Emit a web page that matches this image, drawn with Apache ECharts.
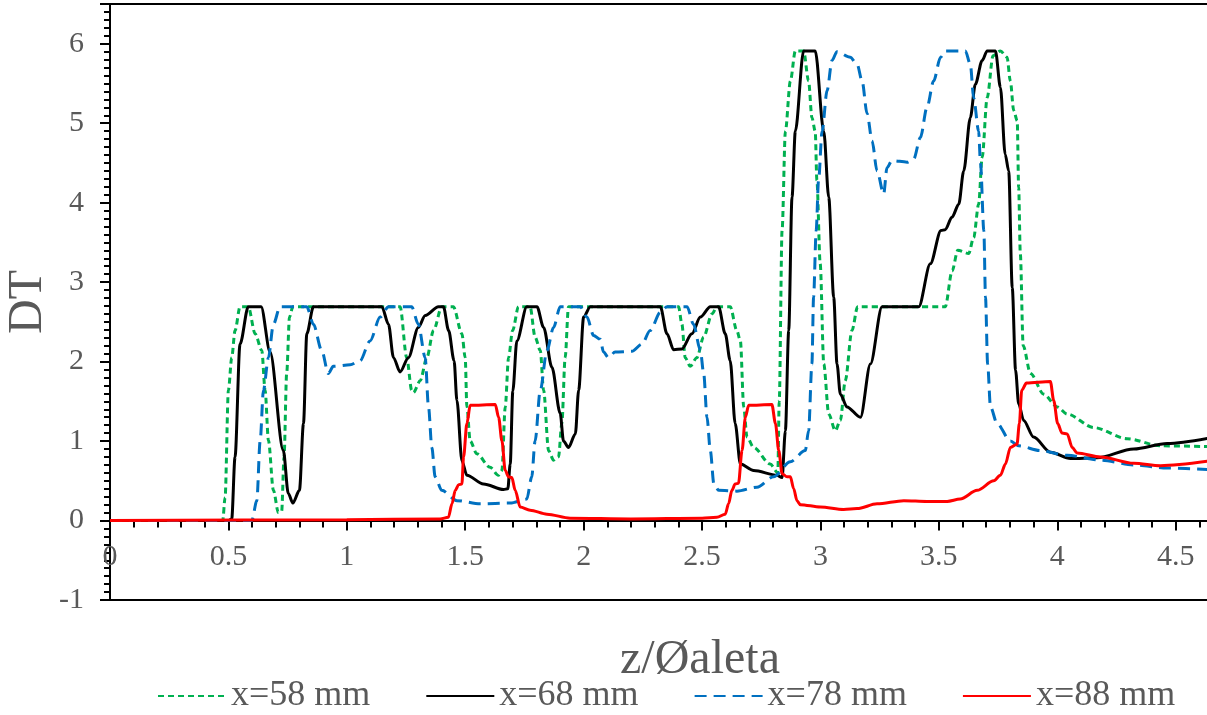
<!DOCTYPE html>
<html>
<head>
<meta charset="utf-8">
<script src="https://cdn.jsdelivr.net/npm/echarts@6/dist/echarts.min.js"></script>
<style>
    html, body { margin: 0; padding: 0; background: #fff; }
    #chart { width: 1207px; height: 715px; }
</style>
</head>
<body>
<div id="chart"></div>
<script>
// z/Øaleta vs DT
var seriesNames = ['x=58 mm', 'x=68 mm', 'x=78 mm', 'x=88 mm'];

var x58 = [[0,0],[0.476,0],[0.486,0.29],[0.5,1.64],[0.514,2.05],[0.528,2.39],[0.549,2.69],[0.584,2.69],[0.613,2.35],[0.641,2.14],[0.655,1.64],[0.669,1.01],[0.69,0.38],[0.711,0.1],[0.725,0.12],[0.735,0.8],[0.746,1.85],[0.758,2.56],[0.772,2.69],
    [1.225,2.69],[1.253,2.05],[1.274,1.64],[1.281,1.61],[1.31,1.76],[1.338,2.05],[1.366,2.39],[1.401,2.69],[1.45,2.69],[1.486,2.35],[1.5,2.05],[1.507,1.43],[1.521,1.0],[1.549,0.84],[1.605,0.67],[1.64,0.57],[1.655,0.63],[1.669,1.43],[1.683,2.05],[1.7,2.39],[1.725,2.69],
    [1.774,2.69],[1.795,2.31],[1.817,2.14],[1.831,1.64],[1.852,0.88],[1.873,0.76],[1.894,0.8],[1.908,1.22],[1.922,2.05],[1.936,2.69],[2.401,2.69],[2.415,2.47],[2.429,2.05],[2.45,1.94],[2.478,2.05],[2.507,2.31],[2.542,2.6],[2.563,2.69],
    [2.619,2.69],[2.647,2.39],[2.662,2.26],[2.676,1.43],[2.69,1.05],[2.718,0.92],[2.788,0.71],[2.82,0.6],[2.826,1.5],[2.838,3.65],[2.852,4.9],[2.873,5.53],[2.894,5.91],[2.929,5.91],[2.95,5.53],[2.964,5.07],[2.978,4.9],[2.985,4.28],[2.999,3.23],[3.014,1.97],[3.035,1.34],[3.063,1.13],[3.084,1.26],[3.105,1.76],[3.133,2.39],[3.157,2.69],
    [3.527,2.69],[3.556,3.14],[3.58,3.4],[3.626,3.36],[3.647,3.56],[3.668,3.98],[3.683,4.57],[3.704,5.32],[3.729,5.85],[3.76,5.91],[3.788,5.83],[3.802,5.53],[3.816,5.16],[3.831,5.03],[3.837,4.19],[3.844,3.36],[3.856,2.2],[3.887,1.85],[3.943,1.59],[4.0,1.43],[4.042,1.34],[4.154,1.17],[4.295,1.03],[4.436,0.94],[4.645,0.93]];

var x68 = [[0,0],[0.5,0],[0.514,0.02],[0.528,0.8],[0.549,2.22],[0.584,2.69],[0.638,2.69],[0.676,2.12],[0.732,0.88],[0.753,0.34],[0.772,0.22],[0.8,0.38],[0.817,1.22],[0.831,2.35],[0.859,2.69],
    [1.148,2.69],[1.176,2.47],[1.197,2.05],[1.225,1.87],[1.26,2.05],[1.302,2.43],[1.331,2.58],[1.387,2.69],[1.408,2.69],[1.43,2.39],[1.453,2.01],[1.465,1.51],[1.486,0.75],[1.507,0.57],[1.577,0.46],[1.662,0.39],[1.68,0.4],[1.69,0.71],[1.701,1.63],[1.718,2.26],[1.76,2.69],
    [1.803,2.69],[1.831,2.43],[1.866,1.93],[1.901,1.35],[1.915,1.0],[1.936,0.92],[1.965,1.09],[1.979,1.64],[2.0,2.56],[2.028,2.69],[2.324,2.69],[2.352,2.35],[2.38,2.15],[2.415,2.16],[2.457,2.35],[2.493,2.56],[2.535,2.69],[2.57,2.69],[2.598,2.35],[2.619,2.01],[2.64,1.22],[2.662,0.71],[2.718,0.63],[2.817,0.57],[2.838,0.54],
    [2.852,1.13],[2.866,2.39],[2.88,4.07],[2.894,4.9],[2.929,5.91],[2.978,5.91],[3.014,4.9],[3.035,4.07],[3.056,2.81],[3.07,1.97],[3.084,1.59],[3.112,1.43],[3.169,1.3],[3.211,1.97],[3.26,2.69],[3.415,2.69],[3.464,3.23],[3.509,3.65],[3.527,3.66],[3.556,3.82],[3.584,3.98],[3.605,4.4],[3.633,5.07],[3.654,5.49],[3.683,5.79],[3.704,5.91],[3.739,5.91],
    [3.76,5.45],[3.78,4.61],[3.795,4.4],[3.81,2.93],[3.824,1.89],[3.837,1.47],[3.858,1.26],[3.9,1.05],[3.971,0.86],[4.056,0.78],[4.168,0.79],[4.323,0.9],[4.464,0.97],[4.645,1.04]];

var x78 = [[0,0],[0.599,0],[0.62,0.25],[0.634,1.0],[0.648,1.64],[0.669,2.05],[0.69,2.47],[0.718,2.69],[0.831,2.69],[0.859,2.47],[0.894,2.14],[0.922,1.85],[0.943,1.94],[1.014,1.96],[1.056,2.01],[1.098,2.26],[1.141,2.56],[1.176,2.69],
    [1.274,2.69],[1.302,2.47],[1.331,2.05],[1.345,1.43],[1.359,0.92],[1.373,0.55],[1.401,0.38],[1.465,0.25],[1.563,0.21],[1.69,0.22],[1.76,0.27],[1.781,0.55],[1.795,1.0],[1.817,1.64],[1.845,2.14],[1.873,2.43],[1.901,2.69],
    [1.986,2.69],[2.014,2.56],[2.042,2.33],[2.07,2.28],[2.084,2.12],[2.105,2.05],[2.133,2.12],[2.204,2.13],[2.246,2.22],[2.281,2.39],[2.324,2.62],[2.352,2.69],[2.437,2.69],[2.464,2.47],[2.493,2.14],[2.507,1.85],[2.521,1.3],[2.535,0.88],[2.55,0.46],[2.57,0.38],[2.647,0.37],[2.732,0.42],[2.802,0.55],[2.873,0.74],[2.936,0.88],
    [2.95,1.13],[2.964,1.97],[2.971,2.81],[2.982,3.65],[2.992,4.28],[3.007,4.9],[3.028,5.41],[3.049,5.79],[3.07,5.9],[3.126,5.83],[3.155,5.74],[3.176,5.53],[3.197,5.12],[3.218,4.78],[3.239,4.4],[3.267,4.11],[3.281,4.44],[3.302,4.53],[3.366,4.51],[3.394,4.55],[3.422,4.82],[3.45,5.2],[3.478,5.53],[3.507,5.83],[3.528,5.91],
    [3.612,5.91],[3.633,5.74],[3.647,5.32],[3.668,4.9],[3.676,4.49],[3.69,3.65],[3.697,2.81],[3.706,1.97],[3.718,1.43],[3.746,1.22],[3.802,1.0],[3.837,0.94],[3.929,0.88],[4.042,0.82],[4.183,0.76],[4.323,0.7],[4.464,0.66],[4.645,0.64]];

var x88 = [[0,0],[1.0,0.01],[1.394,0.02],[1.429,0.04],[1.444,0.21],[1.458,0.38],[1.472,0.45],[1.486,0.46],[1.493,0.8],[1.507,1.22],[1.521,1.45],[1.627,1.46],[1.641,1.3],[1.655,1.0],[1.669,0.63],[1.683,0.55],[1.697,0.54],[1.711,0.38],[1.732,0.17],[1.774,0.13],[1.845,0.08],[1.943,0.03],
    [2.2,0.02],[2.5,0.03],[2.563,0.04],[2.598,0.08],[2.612,0.21],[2.626,0.38],[2.64,0.46],[2.654,0.47],[2.669,0.88],[2.683,1.3],[2.697,1.45],[2.795,1.46],[2.81,1.22],[2.824,0.88],[2.838,0.59],[2.859,0.55],[2.873,0.55],[2.887,0.4],[2.901,0.25],[2.915,0.2],
    [3.0,0.17],[3.098,0.14],[3.155,0.15],[3.239,0.21],[3.352,0.25],[3.45,0.24],[3.535,0.24],[3.59,0.27],[3.662,0.38],[3.732,0.5],[3.76,0.57],[3.781,0.71],[3.802,0.92],[3.83,0.96],[3.84,1.22],[3.85,1.64],[3.87,1.73],[3.971,1.75],[3.985,1.51],[4.002,1.22],[4.02,1.1],[4.042,1.09],[4.063,0.92],[4.084,0.85],[4.183,0.8],[4.323,0.72],[4.436,0.69],[4.645,0.75]];

var xMin = 0, xMax = 4.645, xStep = 0.5;
var yMin = -1, yMax = 6.5, yStep = 1;

var font = 'Liberation Serif';
var grey = '#595959';

var gridTop = 4, gridBottom = 115;
var gridHeight = 715 - gridTop - gridBottom;
// the x axis sits on y = 0, labels just under it
var xAxisOffset = -(0 - yMin) / (yMax - yMin) * gridHeight;

var myChart = echarts.init(document.getElementById('chart'));

function lineSeries(name, data, color, type) {
    return {
        name: name,
        type: 'line',
        data: data,
        symbol: 'none',
        smooth: 0.3,
        smoothMonotone: 'x',
        lineStyle: { color: color, width: 3, type: type },
        itemStyle: { color: color }
    };
}

var option = {
    animation: false,
    backgroundColor: '#fff',
    grid: {
        left: 110,
        top: gridTop,
        right: -3,
        bottom: gridBottom,
        outerBoundsMode: 'none',
        containLabel: false,
        show: true,
        borderColor: '#000',
        borderWidth: 2
    },
    legend: {
        data: seriesNames,
        left: 152,
        top: 673,
        itemWidth: 68,
        itemHeight: 14,
        itemGap: 55,
        itemStyle: { opacity: 0 },
        textStyle: { fontFamily: font, fontSize: 36, color: grey }
    },
    xAxis: {
        type: 'value',
        min: xMin,
        max: xMax,
        interval: xStep,
        offset: xAxisOffset,
        name: 'z/Øaleta',
        nameLocation: 'middle',
        nameGap: 116,
        nameMoveOverlap: false,
        nameTextStyle: { fontFamily: font, fontSize: 48, color: grey, padding: [0, 0, 0, 80] },
        axisLine: { onZero: false, lineStyle: { color: '#000', width: 2 } },
        axisTick: { length: 10, lineStyle: { color: '#000', width: 2 } },
        minorTick: { show: true, splitNumber: 5, length: 7, lineStyle: { color: '#000', width: 2 } },
        splitLine: { show: false },
        axisLabel: { fontFamily: font, fontSize: 30, color: grey, margin: 22, showMaxLabel: false }
    },
    yAxis: {
        type: 'value',
        min: yMin,
        max: yMax,
        interval: yStep,
        name: 'DT',
        nameLocation: 'middle',
        nameGap: 58,
        nameMoveOverlap: false,
        nameTextStyle: { fontFamily: font, fontSize: 48, color: grey },
        axisLine: { lineStyle: { color: '#000', width: 2 } },
        axisTick: { length: 10, lineStyle: { color: '#000', width: 2 } },
        minorTick: { show: true, splitNumber: 10, length: 6, lineStyle: { color: '#000', width: 2 } },
        splitLine: { show: false },
        axisLabel: { fontFamily: font, fontSize: 30, color: grey, margin: 26, showMaxLabel: false }
    },
    series: [
        lineSeries(seriesNames[0], x58, '#00B050', [6, 4]),
        lineSeries(seriesNames[1], x68, '#000000', 'solid'),
        lineSeries(seriesNames[2], x78, '#0070C0', [12, 7]),
        lineSeries(seriesNames[3], x88, '#FF0000', 'solid')
    ]
};
myChart.setOption(option);
</script>
</body>
</html>
